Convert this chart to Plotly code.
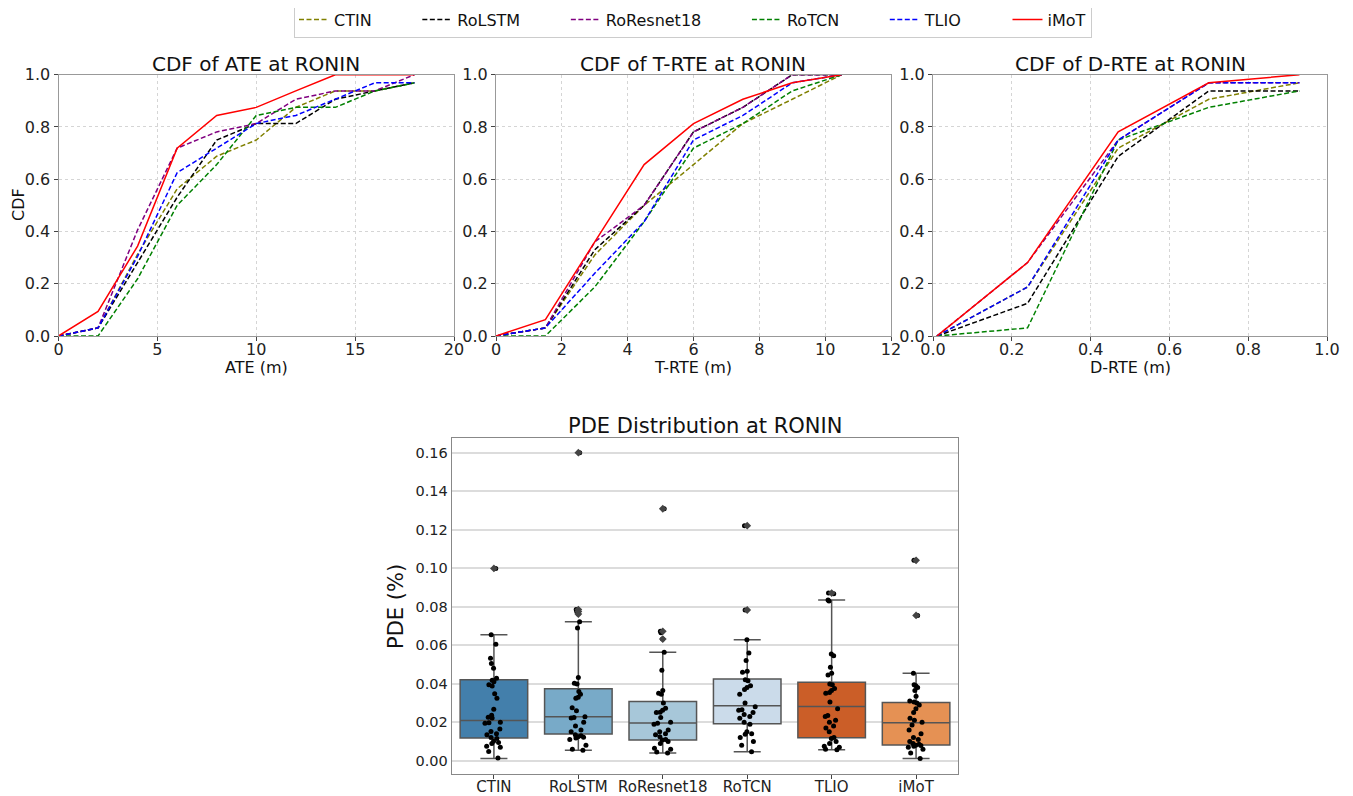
import plotly.graph_objects as go

# ---------------- data ----------------
methods = ["CTIN", "RoLSTM", "RoResnet18", "RoTCN", "TLIO", "iMoT"]
line_colors = ["#808000", "#000000", "#800080", "#008000", "#0000ff", "#ff0000"]
line_dashes = ["dash", "dash", "dash", "dash", "dash", "solid"]

ate_x = [0, 2, 4, 6, 8, 10, 12, 14, 16, 18]
ate_ctin = [0, 0.031, 0.313, 0.563, 0.688, 0.75, 0.875, 0.938, 0.938, 0.969]
ate_rolstm = [0, 0.031, 0.281, 0.531, 0.75, 0.813, 0.813, 0.906, 0.938, 0.969]
ate_roresnet18 = [0, 0.031, 0.406, 0.719, 0.781, 0.813, 0.906, 0.938, 0.938, 1.0]
ate_rotcn = [0, 0, 0.219, 0.5, 0.656, 0.844, 0.875, 0.875, 0.938, 0.969]
ate_tlio = [0, 0.031, 0.305, 0.625, 0.719, 0.813, 0.844, 0.906, 0.969, 0.969]
ate_imot = [0, 0.094, 0.344, 0.719, 0.844, 0.875, 0.938, 1.0, 1.0, 1.0]

trte_x = [0, 1.5, 3, 4.5, 6, 7.5, 9, 10.5]
trte_ctin = [0, 0.031, 0.31, 0.5, 0.656, 0.813, 0.906, 1.0]
trte_rolstm = [0, 0.031, 0.33, 0.5, 0.781, 0.875, 1.0, 1.0]
trte_roresnet18 = [0, 0.031, 0.36, 0.5, 0.781, 0.875, 1.0, 1.0]
trte_rotcn = [0, 0, 0.1875, 0.4375, 0.719, 0.813, 0.938, 1.0]
trte_tlio = [0, 0.031, 0.24, 0.4375, 0.75, 0.844, 0.969, 1.0]
trte_imot = [0, 0.0625, 0.36, 0.656, 0.813, 0.906, 0.969, 1.0]

drte_x = [0.01, 0.24, 0.47, 0.70, 0.93]
drte_ctin = [0, 0.1875, 0.719, 0.906, 0.969]
drte_rolstm = [0, 0.125, 0.6875, 0.938, 0.938]
drte_roresnet18 = [0, 0.281, 0.75, 0.969, 0.969]
drte_rotcn = [0, 0.031, 0.75, 0.875, 0.938]
drte_tlio = [0, 0.1875, 0.75, 0.969, 0.969]
drte_imot = [0, 0.281, 0.781, 0.969, 1.0]

# PDE box statistics
box_colors = ["#437fab", "#78aac8", "#a7c7d9", "#cbdbea", "#cb5e28", "#e59154"]
box_low = [0.0012, 0.0055, 0.0040, 0.0047, 0.0057, 0.0012]
box_q1 = [0.0118, 0.0139, 0.0107, 0.0192, 0.0119, 0.0081]
box_median = [0.0209, 0.0229, 0.0196, 0.0286, 0.0281, 0.0197]
box_q3 = [0.0421, 0.0374, 0.0308, 0.0424, 0.0407, 0.0303]
box_high = [0.0655, 0.0722, 0.0563, 0.0629, 0.0835, 0.0455]

out_ctin = [0.0999]
out_rolstm = [0.160, 0.0785, 0.0775, 0.0762]
out_roresnet18 = [0.1309, 0.0672, 0.0632]
out_rotcn = [0.1221, 0.0783]
out_tlio = [0.0871]
out_imot = [0.1041, 0.0755]

pde_ctin = [0.0999, 0.0655, 0.0605, 0.0532, 0.0505, 0.0480, 0.0428, 0.0418, 0.0410,
            0.0395, 0.0388, 0.0348, 0.0325, 0.0268, 0.0236, 0.0226, 0.0222, 0.0200,
            0.0197, 0.0194, 0.0165, 0.0152, 0.0140, 0.0135, 0.0120, 0.0115, 0.0101,
            0.0095, 0.0090, 0.0075, 0.0070, 0.0048, 0.0014]
pde_rolstm = [0.160, 0.0785, 0.0775, 0.0762, 0.0722, 0.0690, 0.0432, 0.0403, 0.0398,
              0.0360, 0.0345, 0.0330, 0.0325, 0.0275, 0.0260, 0.0228, 0.0225, 0.0222,
              0.0200, 0.0180, 0.0160, 0.0150, 0.0135, 0.0130, 0.0125, 0.0122, 0.0118,
              0.0110, 0.0080, 0.0060, 0.0055]
pde_roresnet18 = [0.1309, 0.0672, 0.0665, 0.0632, 0.0563, 0.0470, 0.0365, 0.0350,
                  0.0345, 0.0300, 0.0272, 0.0262, 0.0252, 0.0250, 0.0225, 0.0200,
                  0.0195, 0.0190, 0.0160, 0.0150, 0.0140, 0.0135, 0.0125, 0.0110,
                  0.0108, 0.0100, 0.0090, 0.0065, 0.0060, 0.0045, 0.0040]
pde_rotcn = [0.1221, 0.0783, 0.0629, 0.0560, 0.0520, 0.0465, 0.0460, 0.0420, 0.0415,
             0.0390, 0.0380, 0.0370, 0.0345, 0.0300, 0.0280, 0.0265, 0.0262, 0.0250,
             0.0240, 0.0230, 0.0220, 0.0200, 0.0190, 0.0150, 0.0140, 0.0138, 0.0120,
             0.0100, 0.0080, 0.0047]
pde_tlio = [0.0871, 0.0868, 0.0835, 0.0830, 0.0555, 0.0545, 0.0485, 0.0455, 0.0445,
            0.0398, 0.0395, 0.0375, 0.0365, 0.0355, 0.0350, 0.0305, 0.0270, 0.0235,
            0.0230, 0.0210, 0.0200, 0.0180, 0.0170, 0.0150, 0.0120, 0.0115, 0.0100,
            0.0090, 0.0075, 0.0070, 0.0060, 0.0057]
pde_imot = [0.1041, 0.0755, 0.0455, 0.0395, 0.0390, 0.0380, 0.0365, 0.0335, 0.0310,
            0.0305, 0.0300, 0.0290, 0.0270, 0.0250, 0.0220, 0.0210, 0.0200, 0.0185,
            0.0160, 0.0140, 0.0120, 0.0110, 0.0100, 0.0090, 0.0085, 0.0080, 0.0079,
            0.0075, 0.0070, 0.0060, 0.0040, 0.0012]

# ---------------- figure ----------------
ate_all = [ate_ctin, ate_rolstm, ate_roresnet18, ate_rotcn, ate_tlio, ate_imot]
trte_all = [trte_ctin, trte_rolstm, trte_roresnet18, trte_rotcn, trte_tlio, trte_imot]
drte_all = [drte_ctin, drte_rolstm, drte_roresnet18, drte_rotcn, drte_tlio, drte_imot]
out_all = [out_ctin, out_rolstm, out_roresnet18, out_rotcn, out_tlio, out_imot]
pde_all = [pde_ctin, pde_rolstm, pde_roresnet18, pde_rotcn, pde_tlio, pde_imot]

fig = go.Figure()

PAD = "\u00a0" * 8  # extra spacing between legend entries
panels = [(ate_x, ate_all, "x", "y"), (trte_x, trte_all, "x2", "y2"), (drte_x, drte_all, "x3", "y3")]
for p, (xs, series, xa, ya) in enumerate(panels):
    for i, m in enumerate(methods):
        label = m + (PAD if i < len(methods) - 1 else "")
        fig.add_trace(go.Scatter(
            x=xs, y=series[i], mode="lines", name=label,
            line=dict(color=line_colors[i], width=1.5,
                      dash="5px,2.5px" if line_dashes[i] == "dash" else "solid"),
            xaxis=xa, yaxis=ya, showlegend=(p == 0), legendgroup=m))

for i, m in enumerate(methods):
    fig.add_trace(go.Box(
        x=[m], q1=[box_q1[i]], median=[box_median[i]], q3=[box_q3[i]],
        lowerfence=[box_low[i]], upperfence=[box_high[i]],
        fillcolor=box_colors[i], line=dict(color="#555555", width=1.5),
        width=0.8, whiskerwidth=0.4, boxpoints=False,
        xaxis="x4", yaxis="y4", showlegend=False))
    fig.add_trace(go.Scatter(
        x=[m] * len(out_all[i]), y=out_all[i], mode="markers",
        marker=dict(symbol="diamond", size=6, color="#444444"),
        xaxis="x4", yaxis="y4", showlegend=False))
    fig.add_trace(go.Box(
        x=[m] * len(pde_all[i]), y=pde_all[i], boxpoints="all", jitter=0.3, pointpos=0,
        fillcolor="rgba(0,0,0,0)", line=dict(color="rgba(0,0,0,0)", width=0),
        marker=dict(color="black", size=5), width=0.8,
        xaxis="x4", yaxis="y4", showlegend=False))

# page body adds an 8px offset; positions below are screen pixels of the target
W, H = 1353, 796
OFF = 8
def px_x(v):
    return (v - OFF) / W
def px_y(v):
    return 1 - (v - OFF) / H

top_dom = [px_y(336), px_y(74.7)]
common_x = dict(showline=True, linecolor="#999999", linewidth=1, mirror=True,
                ticks="outside", ticklen=4, tickcolor="#444444", automargin=False,
                showgrid=True, gridcolor="#d5d5d5", griddash="3px,3px", gridwidth=1,
                zeroline=False, tickfont=dict(size=16, color="#222222"))
common_y = dict(common_x, range=[0, 1], tickvals=[0, 0.2, 0.4, 0.6, 0.8, 1.0], tickformat=".1f")

fig.update_layout(
    xaxis=dict(common_x, domain=[px_x(58.5), px_x(454)], range=[0, 20], tickvals=[0, 5, 10, 15, 20],
               anchor="y", ticklabelstandoff=-5),
    yaxis=dict(common_y, domain=top_dom, anchor="x"),
    xaxis2=dict(common_x, domain=[px_x(496), px_x(891)], range=[0, 12], tickvals=[0, 2, 4, 6, 8, 10, 12],
                anchor="y2", ticklabelstandoff=-5),
    yaxis2=dict(common_y, domain=top_dom, anchor="x2"),
    xaxis3=dict(common_x, domain=[px_x(933), px_x(1327)], range=[0, 1], tickvals=[0, 0.2, 0.4, 0.6, 0.8, 1.0],
                tickformat=".1f", anchor="y3", ticklabelstandoff=-5),
    yaxis3=dict(common_y, domain=top_dom, anchor="x3"),
    xaxis4=dict(domain=[px_x(451.7), px_x(958.3)], anchor="y4", type="category",
                categoryorder="array", categoryarray=methods, range=[-0.5, 5.5],
                showline=True, linecolor="#888888", mirror=True, ticks="outside", ticklen=4,
                tickcolor="#444444", showgrid=False, automargin=False, ticklabelstandoff=-5,
                tickfont=dict(size=15, color="#222222")),
    yaxis4=dict(domain=[px_y(774), px_y(437.7)], anchor="x4", range=[-0.0069, 0.1678],
                tickvals=[0, 0.02, 0.04, 0.06, 0.08, 0.10, 0.12, 0.14, 0.16], tickformat=".2f",
                showline=True, linecolor="#888888", mirror=True, ticks="", automargin=False,
                showgrid=True, gridcolor="#dcdcdc", gridwidth=1.5, zeroline=False,
                tickfont=dict(size=14.5, color="#222222")),
    boxmode="overlay",
    width=W, height=H,
    margin=dict(l=0, r=0, t=0, b=0, autoexpand=False),
    paper_bgcolor="white", plot_bgcolor="white",
    font=dict(family="DejaVu Sans", color="#111111"),
    legend=dict(orientation="h", x=px_x(294), xanchor="left", y=px_y(1.5), yanchor="top",
                font=dict(size=16), bordercolor="#cccccc", borderwidth=1, bgcolor="white"),
)

anns = [
    dict(text="CDF of ATE at RONIN", x=px_x(256), y=px_y(64), size=20),
    dict(text="CDF of T-RTE at RONIN", x=px_x(693.5), y=px_y(64), size=20),
    dict(text="CDF of D-RTE at RONIN", x=px_x(1130), y=px_y(64), size=20),
    dict(text="ATE (m)", x=px_x(256), y=px_y(367.5), size=16),
    dict(text="T-RTE (m)", x=px_x(693.5), y=px_y(367.5), size=16),
    dict(text="D-RTE (m)", x=px_x(1130), y=px_y(367.5), size=16),
    dict(text="CDF", x=px_x(18), y=px_y(205), size=16, angle=-90),
    dict(text="PDE Distribution at RONIN", x=px_x(705), y=px_y(425.5), size=21),
    dict(text="PDE (%)", x=px_x(396), y=px_y(606), size=21, angle=-90),
]
for a in anns:
    fig.add_annotation(text=a["text"], x=a["x"], y=a["y"], xref="paper", yref="paper",
                       xanchor="center", yanchor="middle", showarrow=False,
                       textangle=a.get("angle", 0), font=dict(size=a["size"], color="#111111"))

fig.write_html("out.html")
